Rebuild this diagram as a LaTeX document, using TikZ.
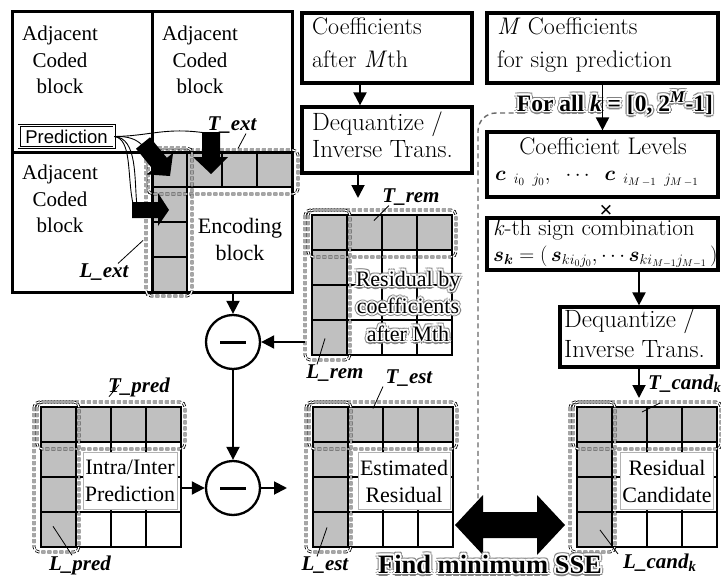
\documentclass[tikz,border=0pt]{standalone}
\usepackage{fontspec}
\usepackage{bm}
\usetikzlibrary{arrows.meta}
\newfontfamily\tms{Liberation Serif}
\newfontfamily\ars{Liberation Sans}
\definecolor{cellgray}{RGB}{192,192,192}
\definecolor{halogray}{RGB}{130,130,130}
\definecolor{loopgray}{RGB}{105,105,105}
\newcommand\fsz[2]{\fontsize{#1}{#2}\selectfont}
% text with a white glow and grey rim
\newcommand\offtxt[3]{\rlap{\hspace*{#1}\raisebox{#2}{#3}}}
\newcommand\glowtxt[1]{%
 \offtxt{3pt}{0pt}{\color{halogray}#1}\offtxt{-3pt}{0pt}{\color{halogray}#1}%
 \offtxt{0pt}{3pt}{\color{halogray}#1}\offtxt{0pt}{-3pt}{\color{halogray}#1}%
 \offtxt{2.1pt}{2.1pt}{\color{halogray}#1}\offtxt{-2.1pt}{2.1pt}{\color{halogray}#1}%
 \offtxt{2.1pt}{-2.1pt}{\color{halogray}#1}\offtxt{-2.1pt}{-2.1pt}{\color{halogray}#1}%
 \offtxt{1.9pt}{0pt}{\color{white}#1}\offtxt{-1.9pt}{0pt}{\color{white}#1}%
 \offtxt{0pt}{1.9pt}{\color{white}#1}\offtxt{0pt}{-1.9pt}{\color{white}#1}%
 \offtxt{1.35pt}{1.35pt}{\color{white}#1}\offtxt{-1.35pt}{1.35pt}{\color{white}#1}%
 \offtxt{1.35pt}{-1.35pt}{\color{white}#1}\offtxt{-1.35pt}{-1.35pt}{\color{white}#1}%
 #1}
% 4x4 residual grid: grey top row and left column
\newcommand\greycells{\fill[cellgray] (0,0) rectangle (140,35); \fill[cellgray] (0,35) rectangle (35,140);}
\newcommand\cellrules{\foreach \q in {35,70,105}{\draw[cellline] (\q,0) -- (\q,140); \draw[cellline] (0,\q) -- (140,\q);}}
\newcommand\extboxes{\draw[extdash] (-4,-5) rectangle (144,42); \draw[extdash] (-7,-5) rectangle (38,145);}
\newcommand\resgrid{\greycells\cellrules\draw[gridframe] (0,0) rectangle (140,140);\extboxes}

\begin{document}
\begin{tikzpicture}[x=1pt,y=-1pt,
  frameline/.style={line width=3pt},
  cellline/.style={line width=1.2pt},
  gridframe/.style={line width=2.6pt},
  extdash/.style={draw=black, line width=0.8pt, double=white, double distance=1.2pt,
    dash pattern=on 4pt off 2pt, rounded corners=5pt},
  conn/.style={line width=1.9pt, -{Triangle[length=13pt,width=13pt]}},
  rbox/.style={draw, line width=3.2pt, fill=white, inner sep=0pt},
  lab/.style={font=\tms\bfseries\itshape\fsz{21}{21}, inner sep=0pt},
  leader/.style={line width=0.8pt},
  curve/.style={line width=0.9pt},
  lmtxt/.style={font=\fsz{24}{24}, inner sep=0pt, anchor=west, text height=0.7em, text depth=0.2em},
  lmbig/.style={font=\fsz{25}{25}, inner sep=0pt, anchor=west, text height=0.7em, text depth=0.2em},
  adj/.style={font=\tms\fsz{21}{26.5}, align=center, inner sep=0pt},
  labbox/.style={fill=white, draw=gray!60, line width=0.4pt, align=center,
    font=\tms\fsz{22}{27}, inner sep=2pt, minimum height=57pt},
  sumc/.style={circle, draw, line width=2.3pt, fill=white, minimum size=54pt, inner sep=0pt},
  loopline/.style={draw=loopgray, line width=1.4pt, dash pattern=on 5pt off 3.5pt, rounded corners=18pt}]
\path[use as bounding box, fill=white] (0,0) rectangle (721,578);

% loop over all sign combinations
\draw[loopline] (522,113) -- (478,113) -- (478,500);

% ---- encoding block with its neighbours ----
\begin{scope}[shift={(152,152)}]
  \greycells
  \draw[cellline] (35,0) -- (35,140) (0,35) -- (140,35) (70,0) -- (70,35)
                  (105,0) -- (105,35) (0,70) -- (35,70) (0,105) -- (35,105);
\end{scope}
\draw[frameline] (12,12) rectangle (292,292) (152,12) -- (152,292) (12,152) -- (292,152);
\begin{scope}[shift={(152,152)}]
  \draw[extdash] (-4,-2) rectangle (146,42);
  \draw[extdash] (-6,-4) rectangle (40,144);
\end{scope}

\node[adj] (adjA) at (60,60) {Adjacent\\Coded\\block};
\node[adj] (adjB) at (200,60) {Adjacent\\Coded\\block};
\node[adj] (adjC) at (60,199) {Adjacent\\Coded\\block};
\node[adj, font=\tms\fsz{22}{27}] (encb) at (240,239) {Encoding\\block};

\node[draw, double, double distance=1.6pt, line width=0.7pt, fill=white,
      font=\ars\fsz{18.5}{18.5}, minimum width=95pt, minimum height=22pt, inner sep=1pt]
      (pred) at (66.5,136.5) {Prediction};
\coordinate (tA) at (206,133);
\coordinate (dA) at (142,145);
\coordinate (lA1) at (133,204);
\coordinate (lA2) at (137,206);
\draw[curve] (pred.east) .. controls (150,136) and (165,127) .. (tA);
\draw[curve] (pred.east) .. controls (128,136) and (136,139) .. (dA);
\draw[curve] (pred.east) .. controls (132,139) and (127,175) .. (lA1);
\draw[curve] (pred.east) .. controls (138,138) and (134,180) .. (lA2);

% extension arrows
\fill (202,132) -- (220,132) -- (220,157) -- (228,157) -- (211,174) -- (193,157) -- (202,157) -- cycle;
\fill (132,202) -- (158,202) -- (158,193) -- (169,210) -- (158,226) -- (158,218) -- (132,218) -- cycle;
\fill (136,148.7) -- (152.9,169.3) -- (146.7,174.4) -- (170,176) -- (173.1,152.8) -- (166.9,157.9) -- (150,137.3) -- cycle;

\node[lab] (text) at (232,125) {T\_ext};
\draw[leader] ([xshift=14pt]text.south) -- ++(-8,15);
\node[lab] (lext) at (104,272) {L\_ext};
\draw[leader] ([xshift=14pt]lext.north) -- ++(25,-23);

% ---- decoding chain of the remaining coefficients ----
\node[rbox, minimum width=170pt, minimum height=70pt] (coef) at (387,48) {};
\node[lmtxt] (coef1) at (312,32) {Coefficients};
\node[lmtxt] (coef2) at (312,65) {after \textit{M}th};
\node[rbox, minimum width=170pt, minimum height=66pt] (deq1) at (387,140) {};
\node[lmbig] (deq1a) at (312,128) {Dequantize /};
\node[lmbig] (deq1b) at (312,155) {Inverse Trans.};
\draw[conn] ([xshift=-27pt]coef.south) -- ([xshift=-27pt]deq1.north);
\coordinate (remtop) at (358,198);
\draw[conn] ([xshift=-29pt]deq1.south) -- (remtop);

\begin{scope}[shift={(312,215)}]
  \resgrid
\end{scope}
\node[font=\tms\fsz{22}{27.5}, align=center, inner sep=0pt] (remtxt) at (408,306)
  {\glowtxt{Residual by}\\\glowtxt{coefficients}\\\glowtxt{after Mth}};
\node[lab] (trem) at (411,197) {T\_rem};
\draw[leader] ([xshift=-22pt]trem.south) -- ++(-15,15);
\node[lab] (lrem) at (335,373) {L\_rem};
\draw[leader] ([xshift=-18pt]lrem.north) -- ++(8,-26);

% ---- subtractions ----
\node[sumc] (sub1) at (233,342) {\rule{26pt}{3pt}};
\node[sumc] (sub2) at (233,488) {\rule{26pt}{3pt}};
\coordinate (framebot) at (233,292);
\coordinate (remleft) at (305,342);
\draw[conn] (framebot) -- (sub1);
\draw[conn] (remleft) -- (sub1);
\draw[conn] (sub1) -- (sub2);

% prediction grid
\begin{scope}[shift={(41,407)}]
  \resgrid
\end{scope}
\node[labbox] (intra) at (130,481) {Intra/Inter\\Prediction};
\node[lab] (tpred) at (139,387) {T\_pred};
\draw[leader] ([xshift=-30pt]tpred.south) -- ++(10,-12);
\node[lab] (lpred) at (80,565) {L\_pred};
\draw[leader] ([xshift=-8pt]lpred.north) -- ++(-19,-29);
\coordinate (predright) at (182,488);
\draw[conn] (predright) -- (sub2);

% estimated residual grid
\begin{scope}[shift={(313,407)}]
  \resgrid
\end{scope}
\node[labbox] (estim) at (404,481) {Estimated\\Residual};
\node[lab] (test) at (409,378) {T\_est};
\draw[leader] ([xshift=-26pt]test.south) -- ++(-10,22);
\node[lab] (lest) at (325,565) {L\_est};
\draw[leader] ([xshift=-8pt]lest.north) -- ++(10,-29);
\coordinate (estin) at (287,488);
\draw[conn] (sub2) -- (estin);

% ---- sign candidates ----
\node[rbox, minimum width=231pt, minimum height=70pt] (mbox) at (602.5,48) {};
\node[lmtxt] (mc1) at (497,32) {\textit{M} Coefficients};
\node[lmtxt] (mc2) at (497,65) {for sign prediction};

\node[rbox, minimum width=231pt, minimum height=65pt] (levels) at (602.5,164.5) {};
\node[lmtxt, anchor=center] (lev1) at (603,152) {Coefficient Levels};
\node[inner sep=0pt, anchor=west, font=\fsz{22}{22}] (lev2) at (495,179)
  {$\bm{c}_{\;\;i_0\;\;j_0}, \;\;\cdots\;\; \bm{c}_{\;\;i_{M\,-1}\;\;j_{M\,-1}}$};

\node[font=\ars\fsz{22}{22}, inner sep=0pt] (times) at (606,211) {×};

\node[rbox, minimum width=231pt, minimum height=52pt] (kth) at (602.5,244) {};
\node[lmtxt, font=\fsz{23}{23}] (kth1) at (493,233) {\textit{k}-th sign combination};
\node[inner sep=0pt, anchor=west, font=\fsz{19.5}{19.5}] (kth2) at (493,257)
  {$\bm{s}_{\bm{k}} = (\,\bm{s}_{ki_0j_0},\cdots \bm{s}_{ki_{M-1}j_{M-1}}\,)$};

\node[rbox, minimum width=158pt, minimum height=60pt] (deq2) at (639,337) {};
\node[lmbig] (deq2a) at (564,325) {Dequantize /};
\node[lmbig] (deq2b) at (564,355) {Inverse Trans.};

\node[font=\tms\bfseries\fsz{23.5}{23.5}, inner sep=0pt] (forall) at (615,103)
  {\glowtxt{For all \textit{k} = [0, 2\textsuperscript{\textit{M}}-1]}};
\draw[conn] (mbox.south) -- (levels.north);
\draw[conn] (deq2.north |- kth.south) -- (deq2.north);
\coordinate (candtop) at (639,398);
\draw[conn] (deq2.south) -- (candtop);

% candidate residual grid
\begin{scope}[shift={(577,407)}]
  \resgrid
\end{scope}
\node[labbox] (candt) at (667,481) {Residual\\Candidate};
\node[lab, anchor=west] (tcand) at (648,384) {T\_cand\textsubscript{k}};
\draw[leader] ([xshift=12pt,yshift=-10pt]tcand.south west) -- ++(-18,9);
\node[lab, anchor=west] (lcand) at (623,563) {L\_cand\textsubscript{k}};
\draw[leader] ([xshift=-5pt]lcand.north west) -- ++(-18,-24);

% comparison of estimated and candidate residuals
\fill (455,525) -- (483,495) -- (483,512) -- (537,512) -- (537,495) -- (565,525)
      -- (537,555) -- (537,538) -- (483,538) -- (483,555) -- cycle;
\node[font=\tms\bfseries\fsz{26.5}{26.5}, inner sep=0pt] (findsse) at (490,564)
  {\glowtxt{Find minimum SSE}};
\end{tikzpicture}
\end{document}
